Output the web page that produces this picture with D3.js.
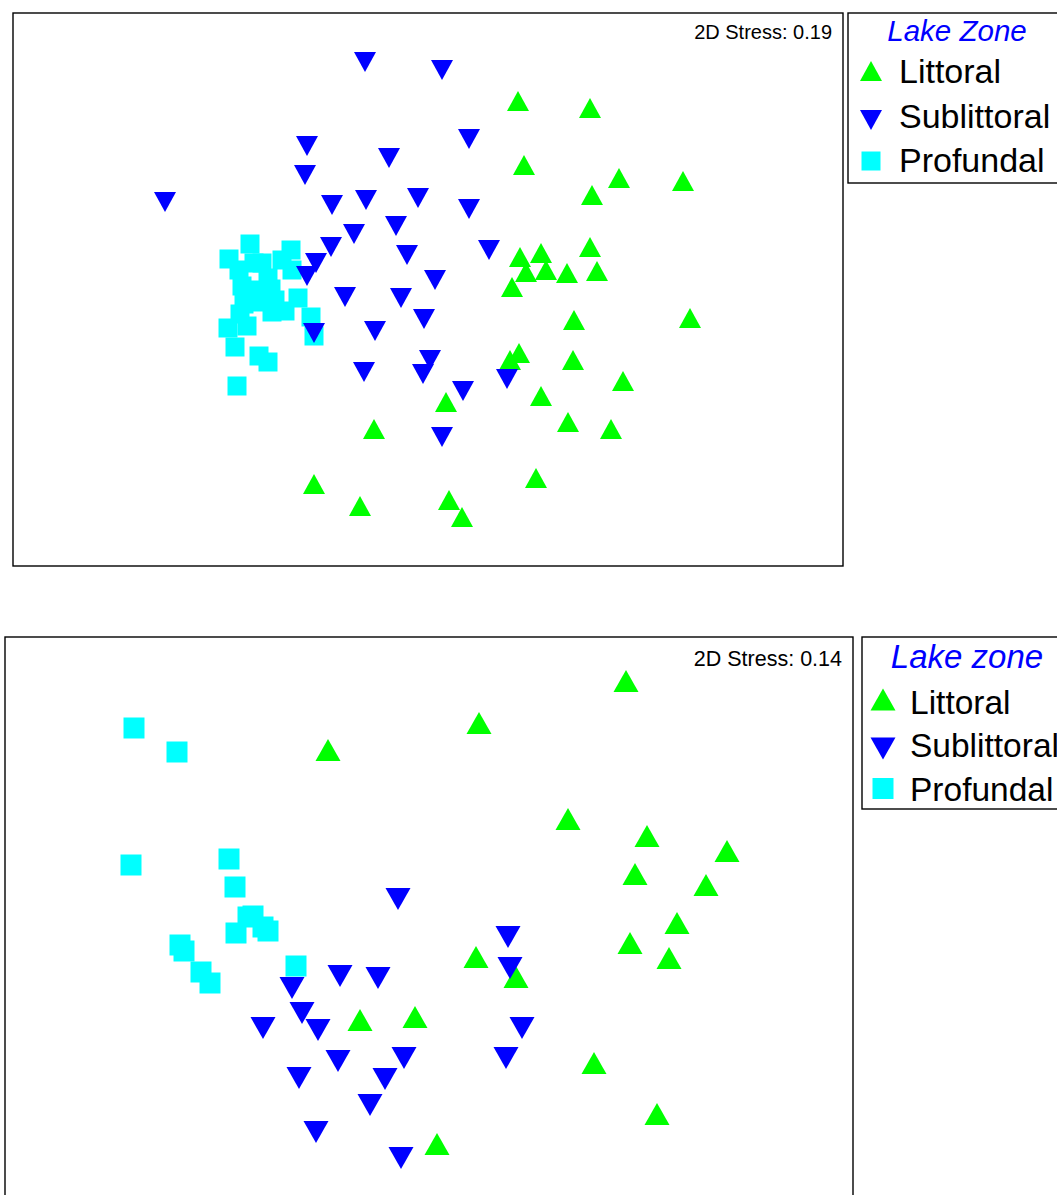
<!DOCTYPE html>
<html><head><meta charset="utf-8">
<script src="https://cdn.jsdelivr.net/npm/d3@7"></script>
<style>body{margin:0;background:#fff}svg{display:block}</style>
</head><body>
<script>
// ---- Data (ordination scores, panel-relative units) ----
const zones = ["Littoral", "Sublittoral", "Profundal"];
const legendTitles = ["Lake Zone", "Lake zone"];
const stressLabels = ["2D Stress: 0.19", "2D Stress: 0.14"];

const topLittoral = [[505,88],[577,95],[511,152],[606,165],[670,168],[579,182],[577,234],[507,244],[528,240],[513,259],[533,257],[554,260],[584,258],[499,274],[561,307],[677,305],[506,340],[497,347],[560,347],[610,368],[528,383],[433,389],[555,409],[598,416],[361,416],[523,465],[301,471],[347,493],[436,487],[449,504]];
const topSublittoral = [[352,49],[429,57],[456,126],[294,133],[376,145],[292,162],[152,189],[319,192],[353,187],[405,185],[456,196],[383,213],[341,221],[318,234],[476,237],[394,242],[303,250],[294,263],[422,267],[332,284],[388,285],[411,306],[362,318],[301,320],[417,347],[351,359],[410,361],[450,378],[494,366],[429,424]];
const topProfundal = [[237,231],[216,246],[278,237],[269,247],[279,257],[249,250],[241,250],[226,257],[255,265],[229,273],[258,276],[243,277],[231,291],[285,285],[272,298],[259,299],[227,301],[298,304],[215,315],[234,313],[222,334],[301,323],[246,343],[255,349],[224,373],[245,289],[262,287]];

const botLittoral = [[621,44],[474,86],[323,113],[563,182],[642,199],[722,214],[630,237],[701,248],[672,286],[625,306],[664,321],[471,320],[511,340],[355,383],[410,380],[589,426],[652,477],[432,507]];
const botSublittoral = [[393,262],[503,300],[505,331],[335,339],[373,341],[287,351],[297,376],[313,393],[258,391],[517,391],[333,424],[399,421],[501,421],[294,441],[380,442],[365,468],[311,495],[396,521]];
const botProfundal = [[129,91],[172,115],[126,228],[224,222],[230,250],[243,280],[248,279],[258,290],[263,294],[231,296],[175,308],[179,314],[196,335],[205,346],[291,329]];

const colors = {Littoral:"#00ff00", Sublittoral:"#0000ff", Profundal:"#00ffff"};

const W = 1057, H = 1195;
const svg = d3.select("body").append("svg").attr("width", W).attr("height", H);

function symPath(type, x, y, w, h, s) {
  if (type === "Littoral") return `M${x},${y-h/2}L${x+w/2},${y+h/2}L${x-w/2},${y+h/2}Z`;
  if (type === "Sublittoral") return `M${x-w/2},${y-h/2}L${x+w/2},${y-h/2}L${x},${y+h/2}Z`;
  return `M${x-s/2},${y-s/2}h${s}v${s}h${-s}Z`;
}

const panels = [
  {x0:13, y0:13, x1:843, y1:566, dw:830, dh:553, tw:22, th:20, sq:19,
   data:{Littoral:topLittoral, Sublittoral:topSublittoral, Profundal:topProfundal},
   stress:{x:832, y:39, size:20},
   legend:{x:848, y:13, w:230, h:170, titleX:957, titleY:41, titleSize:29.5, symX:871, textX:899, rows:[71,120,161], base:[83,128,172], size:34, tw:22, th:20, sq:19},
   title:legendTitles[0], stressText:stressLabels[0]},
  {x0:5, y0:637, x1:853, y1:1207, dw:848, dh:570, tw:25, th:22, sq:21,
   data:{Littoral:botLittoral, Sublittoral:botSublittoral, Profundal:botProfundal},
   stress:{x:842, y:666, size:21.5},
   legend:{x:862, y:637, w:230, h:172, titleX:967, titleY:668, titleSize:33, symX:883, textX:910, rows:[699.5,748.5,788.5], base:[714,757,801], size:33.5, tw:25, th:22, sq:21},
   title:legendTitles[1], stressText:stressLabels[1]}
];

panels.forEach(p => {
  const g = svg.append("g");
  const xs = d3.scaleLinear().domain([0, p.dw]).range([p.x0, p.x0 + p.dw]);
  const ys = d3.scaleLinear().domain([0, p.dh]).range([p.y0, p.y0 + p.dh]);

  g.append("rect").attr("x", p.x0).attr("y", p.y0)
    .attr("width", p.x1 - p.x0).attr("height", p.y1 - p.y0)
    .attr("fill", "none").attr("stroke", "#000").attr("stroke-width", 1.4);

  ["Profundal", "Littoral", "Sublittoral"].forEach(z => {
    g.append("g").selectAll("path").data(p.data[z]).join("path")
      .attr("d", d => symPath(z, xs(d[0]), ys(d[1]), p.tw, p.th, p.sq))
      .attr("fill", colors[z]);
  });

  g.append("text").attr("x", p.stress.x).attr("y", p.stress.y)
    .attr("text-anchor", "end").attr("font-family", "Liberation Sans, Arial, sans-serif")
    .attr("font-size", p.stress.size).attr("fill", "#000").text(p.stressText);

  const L = p.legend;
  g.append("rect").attr("x", L.x).attr("y", L.y).attr("width", L.w).attr("height", L.h)
    .attr("fill", "none").attr("stroke", "#000").attr("stroke-width", 1.4);
  g.append("text").attr("x", L.titleX).attr("y", L.titleY).attr("text-anchor", "middle")
    .attr("font-family", "Liberation Sans, Arial, sans-serif").attr("font-style", "italic")
    .attr("font-size", L.titleSize).attr("fill", "#0000ff").text(p.title);
  zones.forEach((z, i) => {
    g.append("path").attr("d", symPath(z, L.symX, L.rows[i], L.tw, L.th, L.sq)).attr("fill", colors[z]);
    g.append("text").attr("x", L.textX).attr("y", L.base[i])
      .attr("font-family", "Liberation Sans, Arial, sans-serif")
      .attr("font-size", L.size).attr("fill", "#000").text(z);
  });
});
</script>
</body></html>
